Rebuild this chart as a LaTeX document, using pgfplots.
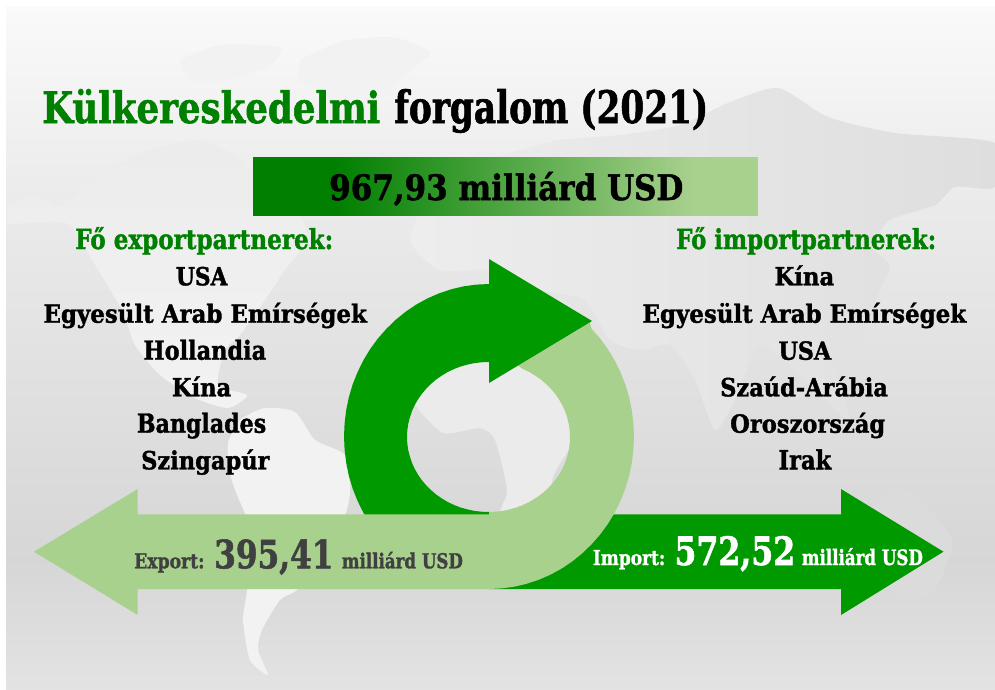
\documentclass[border=0pt]{standalone}
\usepackage{fontspec}
\setmainfont{DejaVu Serif}[BoldFeatures={FakeBold=1.5}]
\usepackage{graphicx}
\usepackage{pgfplots}
\pgfplotsset{compat=1.18}
\definecolor{dark}{HTML}{009900}
\definecolor{light}{HTML}{A9D18E}
\definecolor{titlegreen}{HTML}{008000}
\definecolor{bardark}{HTML}{007F00}
\definecolor{txtgray}{HTML}{404040}
% x, baseline y, width, height above baseline, colour, text
\newcommand{\T}[6]{\node[anchor=base west,inner sep=0pt,text=#5] at (axis cs:#1,#2) {\resizebox{#3pt}{#4pt}{\bfseries #6}};}
\begin{document}
\begin{tikzpicture}
\begin{axis}[
    width=995pt,height=690pt,scale only axis,
    xmin=0,xmax=995,ymin=0,ymax=690,y dir=reverse,
    hide axis,
    land/.style={draw=none,smooth,tension=0.4},
]
% page and background
\addplot[fill=white,draw=none] coordinates {(0,0) (995,0) (995,690) (0,690)};
\addplot[draw=none,top color=black!2,bottom color=black!8] coordinates {(6,7) (995,7) (995,200.5) (6,200.5)};
\addplot[draw=none,top color=black!8,bottom color=black!16] coordinates {(6,200) (995,200) (995,560.5) (6,560.5)};
\addplot[draw=none,top color=black!16,bottom color=black!11] coordinates {(6,560) (995,560) (995,690) (6,690)};
% map, very rough
\addplot[land,fill=black!5] coordinates {(180,60) (220,45) (280,47) (270,65) (230,80) (190,80) (180,60)};
\addplot[land,fill=black!5] coordinates {(300,60) (340,42) (390,37) (430,52) (405,75) (385,95) (360,125) (335,120) (320,95) (300,80) (300,60)};
\addplot[land,top color=black!7.5,bottom color=black!5] coordinates {(7,205) (35,195) (60,205) (100,175) (150,150) (200,140) (240,160) (270,200) (300,215) (307,240) (285,270) (265,300) (240,335) (225,350) (218,385) (247,395) (228,408) (195,398) (160,375) (135,345) (122,310) (95,265) (70,225) (40,222) (7,225)};
\addplot[land,fill=black!5] coordinates {(228,442) (240,420) (265,408) (295,412) (315,440) (345,455) (350,490) (345,515) (320,560) (297,590) (280,600) (262,630) (258,650) (268,675) (250,660) (243,620) (247,590) (250,530) (235,490) (228,465) (228,442)};
\addplot[land,left color=black!7,right color=black!13] coordinates {(430,190) (470,165) (520,150) (560,140) (620,135) (680,125) (728,103) (778,88) (828,117) (895,133) (995,143) (995,187) (955,187) (935,205) (890,220) (872,247) (890,265) (880,290) (860,340) (835,360) (850,420) (825,400) (800,375) (760,345) (735,400) (715,430) (695,380) (670,345) (640,350) (610,340) (585,300) (540,290) (490,270) (440,270) (410,240) (430,190)};
\addplot[land,fill=black!8] coordinates {(413,403) (443,433) (480,428) (495,440) (507,490) (500,512) (505,540) (520,575) (545,530) (553,477) (575,440) (612,375) (585,340) (560,300) (470,290) (420,320) (400,370) (413,403)};
\addplot[land,fill=black!14] coordinates {(870,510) (890,490) (915,495) (952,540) (935,590) (905,600) (880,580) (860,575) (858,535) (870,510)};
% ring, dark part
\addplot[fill=dark,draw=none] coordinates {(489,284) (476.4,284.6) (463.8,286.3) (451.5,289.2) (439.4,293.2) (427.7,298.3) (416.5,304.4) (405.8,311.6) (395.8,319.7) (386.5,328.7) (377.9,338.5) (370.2,349) (363.4,360.2) (357.6,372.1) (352.7,384.3) (348.9,397) (346.2,410) (344.6,423.2) (344,436.5) (344.6,449.8) (346.2,463) (348.9,476) (352.7,488.7) (357.6,500.9) (363.4,512.8) (370.2,524) (377.9,534.5) (386.5,544.3) (395.8,553.3) (405.8,561.4) (416.5,568.6) (427.7,574.7) (439.4,579.8) (451.5,583.8) (463.8,586.7) (476.4,588.4) (489,589)
 (489,512) (481.4,511.7) (474.4,510.9) (467.4,509.4) (460.6,507.5) (454.1,505) (447.7,502) (441.8,498.4) (436.1,494.5) (430.9,490) (426.1,485.2) (421.7,480) (417.9,474.5) (414.6,468.7) (411.9,462.7) (409.8,456.4) (408.2,450) (407.3,443.5) (407,437) (407.3,430.5) (408.2,424) (409.8,417.6) (411.9,411.3) (414.6,405.3) (417.9,399.5) (421.7,394) (426.1,388.8) (430.9,384) (436.1,379.5) (441.8,375.6) (447.7,372) (454.1,369) (460.6,366.5) (467.4,364.6) (474.4,363.1) (481.4,362.3) (489,362)};
% import arrow
\addplot[fill=dark,draw=none] coordinates {(489,514.3) (841,514.3) (841,489) (943.5,551.7) (841,615) (841,589) (489,589)};
% export arrow with the light part of the ring
\addplot[fill=light,draw=none] coordinates {(34,551.7) (137.7,489) (137.7,514.3) (489,514.3) (489,512) (495.6,511.7) (502.6,510.9) (509.6,509.4) (516.4,507.5) (522.9,505) (529.3,502) (535.2,498.4) (540.9,494.5) (546.1,490) (550.9,485.2) (555.3,480) (559.1,474.5) (562.4,468.7) (565.1,462.7) (567.2,456.4) (568.8,450) (569.7,443.5) (570,437) (569.7,430.5) (568.8,424) (567.2,417.6) (565.1,411.3) (562.4,405.3) (559.1,399.5) (555.3,394) (550.9,388.8) (546.1,384) (540.9,379.5) (535.2,375.6) (529.3,372) (522.9,369) (516,364) (589.5,320.5)
 (591.5,328.7) (600.1,338.5) (607.8,349) (614.6,360.2) (620.4,372.1) (625.3,384.3) (629.1,397) (631.8,410) (633.4,423.2) (634,436.5) (633.4,449.8) (631.8,463) (629.1,476) (625.3,488.7) (620.4,500.9) (614.6,512.8) (607.8,524) (600.1,534.5) (591.5,544.3) (582.2,553.3) (572.2,561.4) (561.5,568.6) (550.3,574.7) (538.6,579.8) (526.5,583.8) (514.2,586.7) (501.6,588.4) (489,589) (137.7,589) (137.7,615)};
% arrow head of the ring, on top of the light part
\addplot[fill=dark,draw=none] coordinates {(489,259) (592,321) (489,383)};
% total bar
\addplot[fill=bardark,draw=none] coordinates {(253,157) (335.5,157) (335.5,215.5) (253,215.5)};
\addplot[draw=none,left color=bardark,right color=light] coordinates {(335,157) (695.5,157) (695.5,215.5) (335,215.5)};
\addplot[fill=light,draw=none] coordinates {(695,157) (758,157) (758,215.5) (695,215.5)};
% texts
\T{42}{123}{338}{34}{titlegreen}{Külkereskedelmi}
\T{394}{123}{314}{34}{black}{forgalom (2021)}
\T{329}{200}{354}{28}{black}{967,93 milliárd USD}
\T{75}{249}{258}{22}{titlegreen}{Fő exportpartnerek:}
\T{175.7}{285.3}{51.6}{18.5}{black}{USA}
\T{43.3}{322.7}{323.4}{20}{black}{Egyesült Arab Emírségek}
\T{143.3}{359.7}{122.7}{20}{black}{Hollandia}
\T{171.7}{396.3}{59.3}{20}{black}{Kína}
\T{136.7}{432.7}{129.3}{20}{black}{Banglades}
\T{141}{469.3}{128.3}{20}{black}{Szingapúr}
\T{676}{249}{260}{22}{titlegreen}{Fő importpartnerek:}
\T{774.3}{285.3}{59.7}{20}{black}{Kína}
\T{642.3}{322.7}{323.7}{20}{black}{Egyesült Arab Emírségek}
\T{778.3}{359.7}{52.7}{18.5}{black}{USA}
\T{720}{396.3}{167.7}{20}{black}{Szaúd-Arábia}
\T{730}{432.7}{155}{20}{black}{Oroszország}
\T{778.3}{469.3}{52.7}{20}{black}{Irak}
\T{134}{568.3}{70.3}{15}{txtgray}{Export:}
\T{214}{568.3}{119.3}{29}{txtgray}{395,41}
\T{341.7}{568.3}{121}{16.5}{txtgray}{milliárd USD}
\T{592.7}{565}{72.3}{15}{white}{Import:}
\T{674.3}{565}{120.7}{29}{white}{572,52}
\T{801.7}{565}{121}{17}{white}{milliárd USD}
\end{axis}
\end{tikzpicture}
\end{document}
